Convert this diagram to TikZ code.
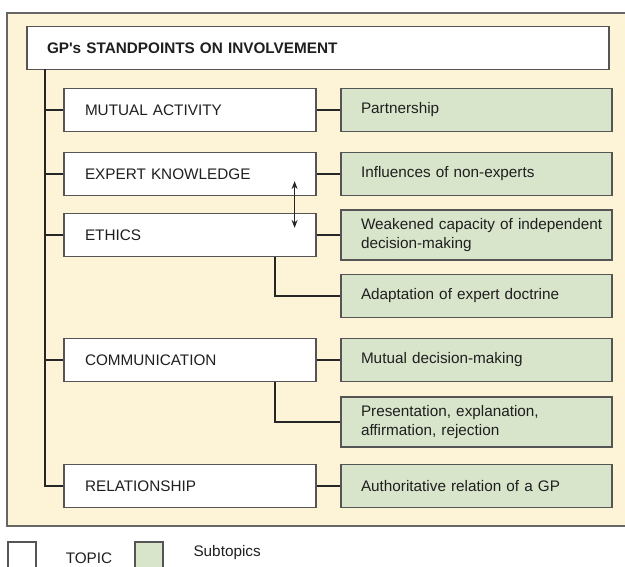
\documentclass[tikz,border=0pt]{standalone}
\usepackage{fontspec}
\setmainfont{Liberation Sans}
\usetikzlibrary{
    arrows,
    arrows.meta,
    calc,
    positioning
}
\definecolor{panelbg}{RGB}{253,243,215}
\definecolor{subgreen}{RGB}{216,229,203}
\definecolor{boxline}{RGB}{85,85,85}
\tikzset{topic/.style={draw=boxline, line width=1.2pt, fill=white, minimum height=43pt, text width=210pt, inner xsep=21pt, align=left, text=black!88, font=\fontsize{15.3}{19}\selectfont}}
\tikzset{subtopic/.style={topic, fill=subgreen, text width=231pt, inner xsep=20pt}}
\tikzset{legendbox/.style={draw=boxline, line width=1.2pt, minimum width=28pt, minimum height=40pt}}
\tikzset{link/.style={line width=1.8pt, draw=black!85}}

\begin{document}
\begin{tikzpicture}[x=1pt, y=-1pt]
                        \useasboundingbox (0, 0) rectangle (625, 567);
                        \clip (0, 0) rectangle (625, 567);

                        % panel
                        \fill[panelbg] (7, 13) rectangle (626, 526);
                        \draw[line width=1.2pt, draw=black!60] (626, 13) -- (7, 13) -- (7, 526) -- (626, 526);

                        \node[topic, text width=542pt, inner xsep=20pt, font=\fontsize{15.3}{19}\selectfont\bfseries] (t) at (318, 48) {GP\textquotesingle s STANDPOINTS ON INVOLVEMENT};
                        \coordinate (tr) at (45, 69);

                        \node[topic] (ma) at (190, 110) {MUTUAL ACTIVITY};
                        \node[topic] (ek) at (190, 174) {EXPERT KNOWLEDGE};
                        \node[topic] (et) at (190, 235) {ETHICS};
                        \node[topic] (co) at (190, 360) {COMMUNICATION};
                        \node[topic] (re) at (190, 486) {RELATIONSHIP};

                        \node[subtopic] (mas) at (476.5, 110) {Partnership};
                        \node[subtopic] (eks) at (476.5, 174) {Influences of non-experts};
                        \node[subtopic, minimum height=50pt] (ets) at (476.5, 235) {\mbox{Weakened capacity of independent}\\decision-making};
                        \node[subtopic] (eta) at (476.5, 296) {Adaptation of expert doctrine};
                        \node[subtopic] (cos) at (476.5, 360) {Mutual decision-making};
                        \node[subtopic, minimum height=50pt] (cop) at (476.5, 422) {Presentation, explanation,\\affirmation, rejection};
                        \node[subtopic] (res) at (476.5, 486) {Authoritative relation of a GP};

                        \draw[link]
                        (tr) |- (re.west)
                        (tr |- ma.west) -- (ma.west)
                        (tr |- ek.west) -- (ek.west)
                        (tr |- et.west) -- (et.west)
                        (tr |- co.west) -- (co.west)
                        (ma.east) -- (mas.west)
                        (ek.east) -- (eks.west)
                        (et.east) -- (ets.west)
                        ([xshift=-42pt]et.south east) |- (eta.west)
                        (co.east) -- (cos.west)
                        ([xshift=-42pt]co.south east) |- (cop.west)
                        (re.east) -- (res.west);

                        \draw[{Stealth[length=8pt, width=6pt]}-{Stealth[length=8pt, width=6pt]}, line width=1.2pt, black!85]
                        ([xshift=-22pt, yshift=15pt]ek.south east) -- ([xshift=-22pt, yshift=-15pt]et.north east);

                        % legend
                        \node[legendbox, fill=white] (lt) at (22, 562) {};
                        \node[legendbox, fill=subgreen] (ls) at (149, 562) {};
                        \node[text=black!88, font=\fontsize{15.3}{19}\selectfont] (ltx) at (89, 558) {TOPIC};
                        \node[anchor=west, text=black!88, font=\fontsize{15.3}{19}\selectfont] (lsx) at (190, 553) {Subtopics};
                    \end{tikzpicture}
\end{document}
